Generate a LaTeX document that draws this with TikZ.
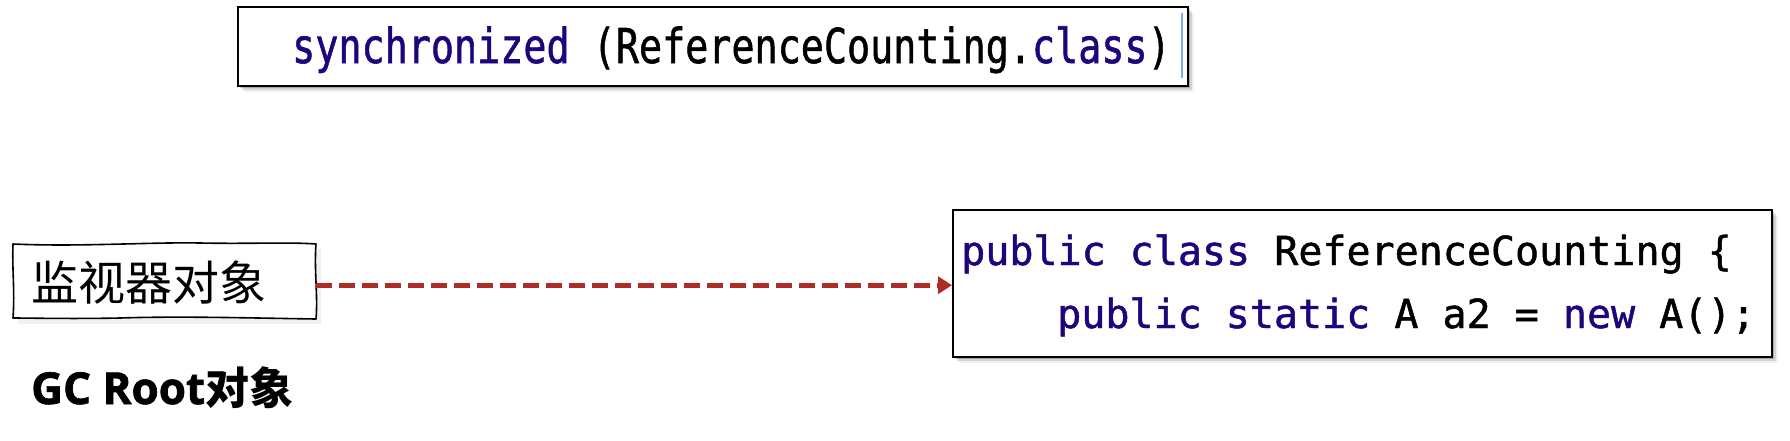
\documentclass[tikz,border=0pt]{standalone}
\usepackage{fontspec}
\usepackage{graphicx}
\usetikzlibrary{arrows.meta,shadows}
\newfontfamily\codefont[FakeBold=1.2]{DejaVu Sans Mono}
\newfontfamily\cjkfont{Noto Sans CJK SC}
\newfontfamily\cjkboldfont{Noto Sans CJK SC Bold}
\newfontfamily\osans[FakeBold=1.5]{Open Sans}
\definecolor{kw}{RGB}{30,4,125}
\definecolor{arrred}{RGB}{175,43,38}
\definecolor{cursorblue}{RGB}{120,175,235}
\tikzset{
  codebox/.style={draw=black, line width=1.8pt, fill=white, inner sep=0pt, anchor=north west,
    drop shadow={shadow xshift=2pt,shadow yshift=-2pt,opacity=.20,fill=black},
    drop shadow={shadow xshift=4pt,shadow yshift=-4pt,opacity=.12,fill=black},
    drop shadow={shadow xshift=6pt,shadow yshift=-6pt,opacity=.06,fill=black}},
  codetxt/.style={anchor=base west, inner sep=0pt, font=\codefont\fontsize{40}{40}\selectfont},
  cjktxt/.style={anchor=base west, inner sep=0pt, font=\cjkfont\fontsize{47}{47}\selectfont},
  sketch/.style={draw=black, line width=1.6pt, line join=round},
  arr/.style={draw=arrred, line width=5pt, dash pattern=on 16pt off 7pt, -{Triangle[length=14pt,width=17pt]}}
}
\begin{document}
\begin{tikzpicture}[x=1pt,y=-1pt]
\useasboundingbox (0,0) rectangle (1790,440);
% top code box
\node[codebox, minimum width=950pt, minimum height=79pt] (top) at (237,6) {};
\draw[cursorblue, line width=2pt] (1182,13) -- (1182,78);
\node[anchor=base west, inner sep=0pt] (sync) at (292,63)
  {\scalebox{0.8}[1]{\codefont\fontsize{48}{48}\selectfont\textcolor{kw}{synchronized} (ReferenceCounting.\textcolor{kw}{class})}};
% right code box
\node[codebox, minimum width=819pt, minimum height=147pt] (code) at (952,209) {};
\node[codetxt] (l1) at (961,265) {\textcolor{kw}{public class} ReferenceCounting \{};
\node[codetxt] (l2) at (1057,328) {\textcolor{kw}{public static} A a2 = \textcolor{kw}{new} A();};
% left sketchy box
\node[minimum width=303pt, minimum height=76pt, inner sep=0pt, anchor=north west] (mon) at (13,243) {};
\fill[black, opacity=0.06] (18,249) rectangle (321,324);
\fill[white] (13,244) .. controls (80,247) and (150,242) .. (200,243) .. controls (250,244) and (290,242) .. (316,244)
  .. controls (314,270) and (318,295) .. (316,319)
  .. controls (250,318) and (180,316) .. (120,318) .. controls (70,319) and (30,318) .. (13,318)
  .. controls (15,290) and (12,270) .. (13,244) -- cycle;
\draw[sketch] (13,244) .. controls (80,247) and (150,242) .. (200,243) .. controls (250,244) and (290,242) .. (316,244)
  .. controls (314,270) and (318,295) .. (316,319)
  .. controls (250,318) and (180,316) .. (120,318) .. controls (70,319) and (30,318) .. (13,318)
  .. controls (15,290) and (12,270) .. (13,244) -- cycle;
\node[cjktxt] (montxt) at (31,300) {监视器对象};
% connector
\draw[arr] ([yshift=-4pt]mon.east) -- ([yshift=-4pt]mon.east -| code.west);
% caption
\node[anchor=base west, inner sep=0pt] (gc) at (31,404)
  {\osans\bfseries\fontsize{44}{44}\selectfont GC Root\cjkboldfont 对象};
\end{tikzpicture}
\end{document}
